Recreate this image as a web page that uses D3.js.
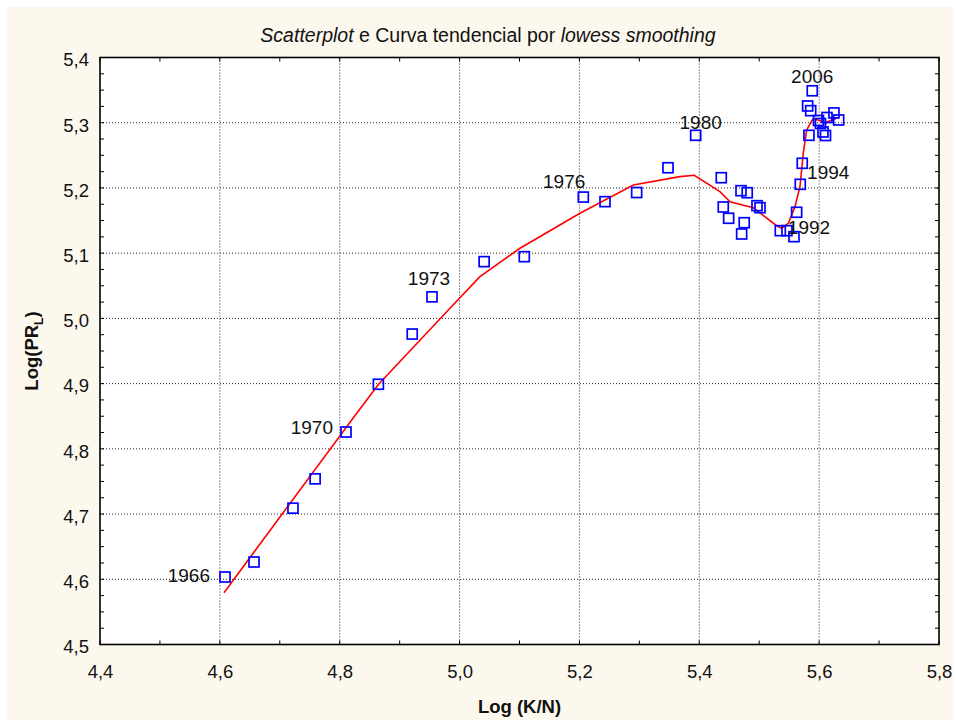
<!DOCTYPE html>
<html><head><meta charset="utf-8">
<script src="https://cdn.jsdelivr.net/npm/d3@7"></script>
<style>html,body{margin:0;padding:0;background:#fff;}svg{display:block;}</style>
</head><body>
<script>
// ---- data ----
const logKN = [4.6086,4.657,4.722,4.759,4.8105,4.8645,4.921,4.954,5.041,5.108,5.2065,5.2427,5.2955,5.3478,5.394,
  5.4367,5.440,5.449,5.4696,5.480,5.475,5.4707,5.4963,5.5013,5.5352,5.5463,5.558,5.5625,5.5685,5.5718,5.583,5.5808,5.5859,5.5885,
  5.5989,5.6022,5.6131,5.6247,5.6326,5.6064,5.6106];
const logPR = [4.6035,4.6265,4.709,4.754,4.8258,4.899,4.976,5.033,5.087,5.0946,5.186,5.179,5.193,5.231,5.2807,
  5.2157,5.1708,5.1535,5.1958,5.1927,5.1467,5.1294,5.1728,5.1697,5.1345,5.1345,5.1253,5.1627,5.2056,5.2378,5.2807,5.3257,5.3185,5.349,
  5.3034,5.2988,5.308,5.315,5.3042,5.2858,5.2804];
const lowessX = [4.6069,4.82,4.8645,4.984,5.034,5.1008,5.2009,5.2899,5.3677,5.3917,5.4345,5.4512,5.4901,5.5291,5.5375,5.5485,5.5597,5.568,5.5735,5.5792,5.5892,5.5985,5.6097,5.6292];
const lowessY = [4.5794,4.8442,4.8986,5.0155,5.064,5.1075,5.1611,5.2045,5.2173,5.2194,5.1943,5.1789,5.1697,5.1421,5.1381,5.1458,5.1713,5.2019,5.2531,5.2889,5.3053,5.3042,5.3001,5.3068];
const labelYears = ["1966","1970","1973","1976","1980","1992","1994","2006"];
const labelPoint = [0,4,7,10,14,26,28,33];
const xTicks = [4.4,4.6,4.8,5.0,5.2,5.4,5.6,5.8];
const yTicks = [4.5,4.6,4.7,4.8,4.9,5.0,5.1,5.2,5.3,5.4];
const titleParts = [["Scatterplot",true],[" e Curva tendencial por ",false],["lowess smoothing",true]];

// ---- layout ----
const W=956,H=722;
const L=100,R=939,T=57.5,B=644.5;
const labelOffsets = [[-15,0,"end"],[-13,-3,"end"],[-3,-17,"middle"],[2,-14,"end"],[5,-11,"middle"],[15,-8,"middle"],[28,-10,"middle"],[0,-13,"middle"]];
const font = "'Liberation Sans', Arial, sans-serif";

const svg = d3.select("body").append("svg").attr("width",W).attr("height",H);
svg.append("rect").attr("x",7).attr("y",7).attr("width",946).attr("height",713).attr("fill","#fdf8ee");
svg.append("rect").attr("x",L).attr("y",T).attr("width",R-L).attr("height",B-T).attr("fill","#fff");

const x = d3.scaleLinear().domain([4.4,5.8]).range([L,R]);
const y = d3.scaleLinear().domain([4.5,5.4]).range([B,T]);

// grid
const g = svg.append("g");
g.selectAll(".gx").data(xTicks.slice(1,-1)).join("line")
  .attr("x1",d=>x(d)).attr("x2",d=>x(d)).attr("y1",T).attr("y2",B)
  .attr("stroke","#222").attr("stroke-width",1).attr("stroke-dasharray","1,2");
g.selectAll(".gy").data(yTicks.slice(1,-1)).join("line")
  .attr("y1",d=>y(d)).attr("y2",d=>y(d)).attr("x1",L).attr("x2",R)
  .attr("stroke","#222").attr("stroke-width",1).attr("stroke-dasharray","1,2");

// minor ticks (inward) on all sides
const xMinor = d3.range(0,15).map(i=>4.4+i*0.1);
const yMinor = d3.range(0,37).map(i=>4.5+i*0.025);
[B,T].forEach((yy,k)=>{
  g.selectAll(null).data(xMinor).join("line")
    .attr("x1",d=>x(d)).attr("x2",d=>x(d)).attr("y1",yy).attr("y2",k===0?yy-4:yy+4)
    .attr("stroke","#000").attr("stroke-width",1);
});
[L,R].forEach((xx,k)=>{
  g.selectAll(null).data(yMinor).join("line")
    .attr("y1",d=>y(d)).attr("y2",d=>y(d)).attr("x1",xx).attr("x2",k===0?xx+4:xx-4)
    .attr("stroke","#000").attr("stroke-width",1);
});

// axes labels via d3 axes (no lines)
const fmt = d=>d3.format(".1f")(d).replace(".",",");
const ax = svg.append("g").attr("transform",`translate(0,${B})`)
  .call(d3.axisBottom(x).tickValues(xTicks).tickFormat(fmt).tickSize(0).tickPadding(20));
const ay = svg.append("g").attr("transform",`translate(${L},0)`)
  .call(d3.axisLeft(y).tickValues(yTicks).tickFormat(fmt).tickSize(0).tickPadding(11));
[ax,ay].forEach(a=>{a.select(".domain").remove();
  a.selectAll("text").attr("font-family",font).attr("font-size",18.5).attr("fill","#111");});
ay.selectAll("text").attr("dy","0.45em");

// frame
svg.append("rect").attr("x",L).attr("y",T).attr("width",R-L).attr("height",B-T)
  .attr("fill","none").attr("stroke","#000").attr("stroke-width",1.6);

// lowess curve
const pts = lowessX.map((d,i)=>[d,lowessY[i]]);
svg.append("path").datum(pts)
  .attr("d",d3.line().x(d=>x(d[0])).y(d=>y(d[1])))
  .attr("fill","none").attr("stroke","#ff0000").attr("stroke-width",1.6);

// points
const s=10;
svg.append("g").selectAll("rect").data(logKN.map((d,i)=>[d,logPR[i]])).join("rect")
  .attr("x",d=>x(d[0])-s/2).attr("y",d=>y(d[1])-s/2).attr("width",s).attr("height",s)
  .attr("fill","none").attr("stroke","#0000ff").attr("stroke-width",1.7);

// year labels
svg.append("g").selectAll("text").data(labelYears).join("text")
  .attr("x",(d,i)=>x(logKN[labelPoint[i]])+labelOffsets[i][0])
  .attr("y",(d,i)=>y(logPR[labelPoint[i]])+labelOffsets[i][1])
  .attr("text-anchor",(d,i)=>labelOffsets[i][2])
  .attr("dominant-baseline","middle")
  .attr("font-family",font).attr("font-size",19).attr("fill","#111").text(d=>d);

// title
const t = svg.append("text").attr("x",488).attr("y",42).attr("text-anchor","middle")
  .attr("font-family",font).attr("font-size",19.5).attr("fill","#111");
titleParts.forEach(p=>t.append("tspan").attr("font-style",p[1]?"italic":"normal").text(p[0]));

// axis titles
svg.append("text").attr("x",(L+R)/2).attr("y",713).attr("text-anchor","middle")
  .attr("font-family",font).attr("font-size",18.5).attr("font-weight","bold").attr("fill","#111").text("Log (K/N)");
const yt = svg.append("text").attr("transform",`translate(38,${(T+B)/2}) rotate(-90)`).attr("text-anchor","middle")
  .attr("font-family",font).attr("font-size",18.5).attr("font-weight","bold").attr("fill","#111");
yt.append("tspan").text("Log(PR");
yt.append("tspan").attr("font-size",12).attr("dy",5).text("L");
yt.append("tspan").attr("dy",-5).text(")");
</script>
</body></html>
